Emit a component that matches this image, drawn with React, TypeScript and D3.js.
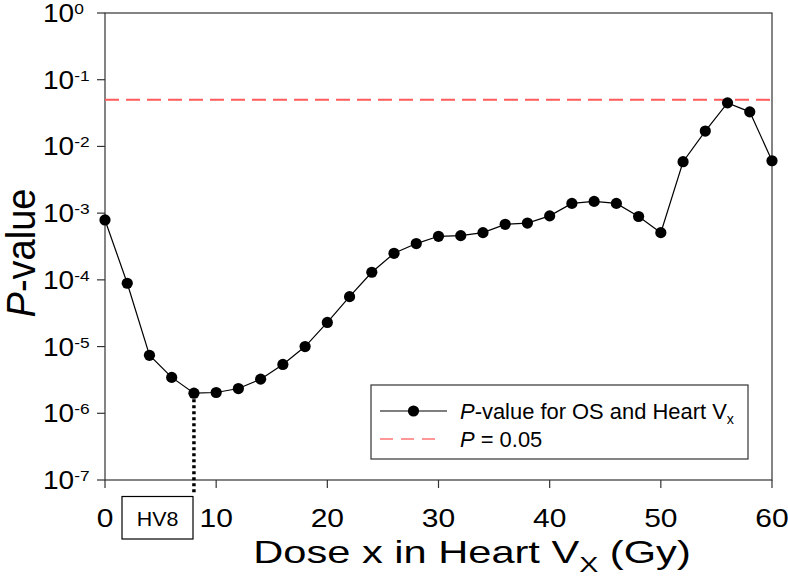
import React from "react";
import * as d3 from "d3";

const doses = [0, 2, 4, 6, 8, 10, 12, 14, 16, 18, 20, 22, 24, 26, 28, 30, 32, 34, 36, 38, 40, 42, 44, 46, 48, 50, 52, 54, 56, 58, 60];
const pValues = [7.9e-4, 8.9e-5, 7.4e-6, 3.45e-6, 2.0e-6, 2.05e-6, 2.35e-6, 3.25e-6, 5.4e-6, 1.0e-5, 2.3e-5, 5.6e-5, 1.3e-4, 2.5e-4, 3.5e-4, 4.5e-4, 4.6e-4, 5.1e-4, 6.8e-4, 7.1e-4, 9.1e-4, 1.4e-3, 1.5e-3, 1.4e-3, 8.9e-4, 5.1e-4, 5.9e-3, 1.7e-2, 4.5e-2, 3.3e-2, 6.1e-3];
const xTicks = [0, 10, 20, 30, 40, 50, 60];
const yExponents = [0, -1, -2, -3, -4, -5, -6, -7];
const threshold = 0.05;
const highlightDose = 8;
const highlightLabel = "HV8";

const W = 788;
const H = 582;
const M = { left: 105, right: 772, top: 13, bottom: 480 };
const FONT = "'Liberation Sans', Arial, sans-serif";

export default function App() {
  const x = d3.scaleLinear().domain([0, 60]).range([M.left, M.right]);
  const y = d3.scaleLog().domain([1e-7, 1]).range([M.bottom, M.top]);
  const line = d3
    .line<number>()
    .x((_, i) => x(doses[i]))
    .y((v) => y(v));

  const hvY = y(pValues[doses.indexOf(highlightDose)]);

  return (
    <svg width={W} height={H} style={{ position: "absolute", left: 0, top: 0, background: "#fff" }} fontFamily={FONT}>
      <rect x={0} y={0} width={W} height={H} fill="#fff" />
      {/* frame */}
      <rect x={M.left} y={M.top} width={M.right - M.left} height={M.bottom - M.top} fill="none" stroke="#333" strokeWidth={1.2} />
      {/* y ticks */}
      {yExponents.map((e) => {
        const yy = y(Math.pow(10, e));
        return (
          <g key={e}>
            <line x1={M.left - 8} x2={M.left} y1={yy} y2={yy} stroke="#333" strokeWidth={1.2} />
            <g transform={`translate(43,${yy + 9}) scale(1.12,1)`}>
              <text fontSize={25} fill="#000">
                10
                <tspan fontSize={15.5} dy={-8}>{e}</tspan>
              </text>
            </g>
          </g>
        );
      })}
      {/* x ticks */}
      {xTicks.map((t) => (
        <g key={t}>
          <line x1={x(t)} x2={x(t)} y1={M.bottom} y2={M.bottom + 8} stroke="#333" strokeWidth={1.2} />
          <g transform={`translate(${x(t)},527) scale(1.2,1)`}>
            <text fontSize={25} textAnchor="middle" fill="#000">{t}</text>
          </g>
        </g>
      ))}
      {/* threshold line */}
      <line x1={M.left} x2={M.right} y1={y(threshold)} y2={y(threshold)} stroke="#ff5b5b" strokeWidth={2} strokeDasharray="14 7" />
      {/* dotted highlight */}
      <line x1={x(highlightDose)} x2={x(highlightDose)} y1={hvY} y2={M.bottom + 13} stroke="#000" strokeWidth={3.5} strokeDasharray="3 3" />
      {/* data line */}
      <path d={line(pValues) || ""} fill="none" stroke="#000" strokeWidth={1.2} />
      {pValues.map((v, i) => (
        <circle key={i} cx={x(doses[i])} cy={y(v)} r={5.6} fill="#000" />
      ))}
      {/* HV8 box */}
      <rect x={122} y={496.5} width={71} height={42.5} fill="#fff" stroke="#000" strokeWidth={1.2} />
      <g transform={`translate(157.5,526) scale(1.02,1)`}>
        <text fontSize={21} textAnchor="middle" fill="#000">{highlightLabel}</text>
      </g>
      {/* legend */}
      <rect x={371} y={385} width={377} height={74} fill="#fff" stroke="#333" strokeWidth={1.2} />
      <line x1={380} x2={447} y1={411} y2={411} stroke="#000" strokeWidth={1.2} />
      <circle cx={413.5} cy={411} r={5.6} fill="#000" />
      <g transform={`translate(460,419) scale(1.02,1)`}>
        <text fontSize={21.5} fill="#000">
          <tspan fontStyle="italic">P</tspan>-value for OS and Heart V
          <tspan fontSize={14} dy={5}>x</tspan>
        </text>
      </g>
      <line x1={380} x2={442} y1={439} y2={439} stroke="#ff3030" strokeWidth={1.2} strokeDasharray="13 8" />
      <g transform={`translate(460,447) scale(1.02,1)`}>
        <text fontSize={21.5} fill="#000">
          <tspan fontStyle="italic">P</tspan> = 0.05
        </text>
      </g>
      {/* axis titles */}
      <g transform={`translate(472,563) scale(1.3,1)`}>
        <text fontSize={32} textAnchor="middle" fill="#000">
          Dose x in Heart V
          <tspan fontSize={22} dy={9}>X</tspan>
          <tspan dy={-9}> (Gy)</tspan>
        </text>
      </g>
      <g transform={`translate(35,253) scale(1.05,1) rotate(-90)`}>
        <text fontSize={38} textAnchor="middle" fill="#000">
          <tspan fontStyle="italic">P</tspan>-value
        </text>
      </g>
    </svg>
  );
}
